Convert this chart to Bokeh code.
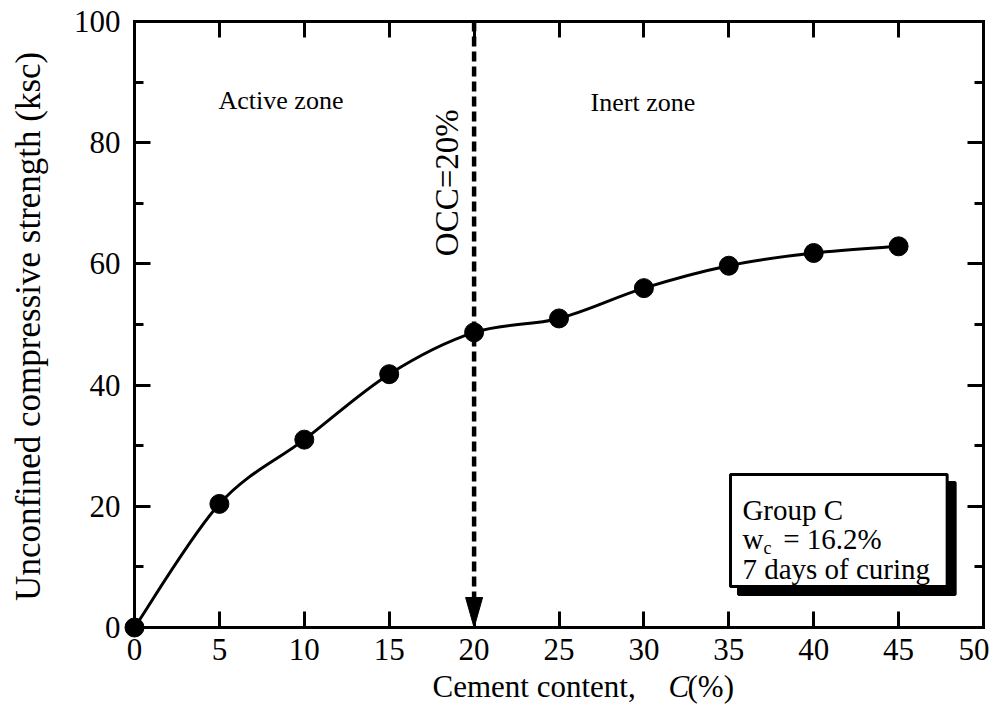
import math
from bokeh.plotting import figure
from bokeh.models import Range1d, LinearAxis, SingleIntervalTicker, Label
from bokeh.embed import file_html
from bokeh.resources import INLINE

# ---- data ----
cement = [0, 5, 10, 15, 20, 25, 30, 35, 40, 45]
strength = [0.0, 20.4, 31.0, 41.8, 48.7, 51.0, 56.0, 59.7, 61.8, 62.9]
x_ticks = [0, 5, 10, 15, 20, 25, 30, 35, 40, 45, 50]
y_ticks = [0, 20, 40, 60, 80, 100]
occ = 20

FONT = "Liberation Serif"
W, H = 989, 708
# pixel positions of the axis box inside the canvas
FL, FR, FT, FB = 134, 983, 21, 627
XMIN, XMAX, YMIN, YMAX = 0, 50, 0, 100
sx = (FR - FL) / (XMAX - XMIN)
sy = (FB - FT) / (YMAX - YMIN)

# the frame fills the whole canvas; axes are fixed at the data box edges
p = figure(width=W, height=H, output_backend="svg", toolbar_location=None,
           x_range=Range1d(XMIN - FL / sx, XMAX + (W - FR) / sx),
           y_range=Range1d(YMIN - (H - FB) / sy, YMAX + FT / sy),
           min_border=0, min_border_left=0, min_border_right=0,
           min_border_top=0, min_border_bottom=0)
p.title.visible = False
p.grid.visible = False
p.outline_line_color = None
p.background_fill_color = "white"
p.border_fill_color = "white"


def style(ax, show_labels=True, ticks=None):
    ax.axis_line_width = 3
    ax.axis_line_color = "black"
    ax.axis_line_cap = "square"
    ax.major_tick_line_width = 3
    ax.major_tick_in = 16
    ax.major_tick_out = 0
    ax.minor_tick_line_width = 3
    ax.minor_tick_in = 9
    ax.minor_tick_out = 0
    ax.major_label_text_font = FONT
    ax.major_label_text_font_size = "31px"
    ax.major_label_text_color = "black"
    if not show_labels:
        ax.major_label_overrides = {t: "" for t in ticks}
        ax.major_label_text_font_size = "0px"
        ax.major_label_standoff = 0


xa = p.xaxis[0]
xa.ticker = SingleIntervalTicker(interval=5, num_minor_ticks=1)
xa.fixed_location = YMIN
xa.bounds = (XMIN, XMAX)
style(xa)
xa.major_label_standoff = 11
xa.minor_tick_line_color = None

ya = p.yaxis[0]
ya.ticker = SingleIntervalTicker(interval=20, num_minor_ticks=2)
ya.fixed_location = XMIN
ya.bounds = (YMIN, YMAX)
style(ya)
ya.major_label_standoff = 14

top = LinearAxis(ticker=SingleIntervalTicker(interval=5, num_minor_ticks=1),
                 fixed_location=YMAX, bounds=(XMIN, XMAX))
style(top, False, x_ticks)
top.minor_tick_line_color = None
p.add_layout(top, "above")

right = LinearAxis(ticker=SingleIntervalTicker(interval=20, num_minor_ticks=2),
                   fixed_location=XMAX, bounds=(YMIN, YMAX))
style(right, False, y_ticks)
p.add_layout(right, "right")

# ---- smooth curve (Catmull-Rom rendered as cubic Bezier segments) ----
n = len(cement)
x0s, y0s, x1s, y1s, cx0s, cy0s, cx1s, cy1s = [], [], [], [], [], [], [], []
for i in range(n - 1):
    xp, yp = (cement[i - 1], strength[i - 1]) if i > 0 else (cement[i], strength[i])
    xa_, ya_ = cement[i], strength[i]
    xb_, yb_ = cement[i + 1], strength[i + 1]
    xn, yn = (cement[i + 2], strength[i + 2]) if i + 2 < n else (xb_, yb_)
    x0s.append(xa_); y0s.append(ya_); x1s.append(xb_); y1s.append(yb_)
    cx0s.append(xa_ + (xb_ - xp) / 6.0); cy0s.append(ya_ + (yb_ - yp) / 6.0)
    cx1s.append(xb_ - (xn - xa_) / 6.0); cy1s.append(yb_ - (yn - ya_) / 6.0)
p.bezier(x0=x0s, y0=y0s, x1=x1s, y1=y1s, cx0=cx0s, cy0=cy0s, cx1=cx1s, cy1=cy1s,
         line_color="black", line_width=3)

p.scatter(cement, strength, size=19, marker="circle",
          fill_color="black", line_color="black")

# ---- OCC arrow ----
head_len = 30 / sy
head_half = 8.5 / sx
p.segment(x0=[occ], y0=[YMAX], x1=[occ], y1=[head_len], line_color="black",
          line_width=4.5, line_dash="10 5")
p.patch([occ - head_half, occ + head_half, occ], [head_len, head_len, 0],
        fill_color="black", line_color="black", line_width=1)

p.add_layout(Label(x=18.43, y=73.4, text="OCC=20%", angle=math.pi / 2,
                   text_align="center", text_baseline="middle",
                   text_font=FONT, text_font_size="33px", text_color="black"))
p.add_layout(Label(x=4.95, y=87.0, text="Active zone", text_align="left",
                   text_baseline="alphabetic", text_font=FONT,
                   text_font_size="26px", text_color="black"))
p.add_layout(Label(x=26.86, y=86.6, text="Inert zone", text_align="left",
                   text_baseline="alphabetic", text_font=FONT,
                   text_font_size="26px", text_color="black"))

# ---- info box with shadow ----
bl, br, bt, bb = 35.1, 47.86, 25.25, 6.77
sdx, sdy = 8 / sx, 8 / sy
p.quad(left=[bl + sdx], right=[br + sdx], top=[bt - sdy], bottom=[bb - sdy],
       fill_color="black", line_color="black", line_width=3)
p.quad(left=[bl], right=[br], top=[bt], bottom=[bb],
       fill_color="white", line_color="black", line_width=3)

for txt, x, y, fs in [("Group C", 35.8, 19.47, "29px"),
                      ("w", 35.8, 14.67, "29px"),
                      ("c", 37.04, 13.2, "18px"),
                      ("= 16.2%", 38.2, 14.67, "29px"),
                      ("7 days of curing", 35.8, 9.69, "29px")]:
    p.add_layout(Label(x=x, y=y, text=txt, text_align="left",
                       text_baseline="alphabetic", text_font=FONT,
                       text_font_size=fs, text_color="black"))

# ---- axis titles ----
xlab_y = YMIN - (686 - FB) / sy
for txt, x, style_ in [("Cement content,", 17.55, "normal"),
                       ("C", 31.45, "italic"),
                       ("(%)", 32.57, "normal")]:
    p.add_layout(Label(x=x, y=xlab_y, text=txt, text_align="left",
                       text_baseline="alphabetic", text_font=FONT,
                       text_font_size="31px", text_font_style=style_,
                       text_color="black"))

p.add_layout(Label(x=-6.24, y=49.7, text="Unconfined compressive strength (ksc)",
                   angle=math.pi / 2, text_align="center", text_baseline="middle",
                   text_font=FONT, text_font_size="35px", text_color="black"))

open("out.html", "w").write(file_html(p, INLINE))
